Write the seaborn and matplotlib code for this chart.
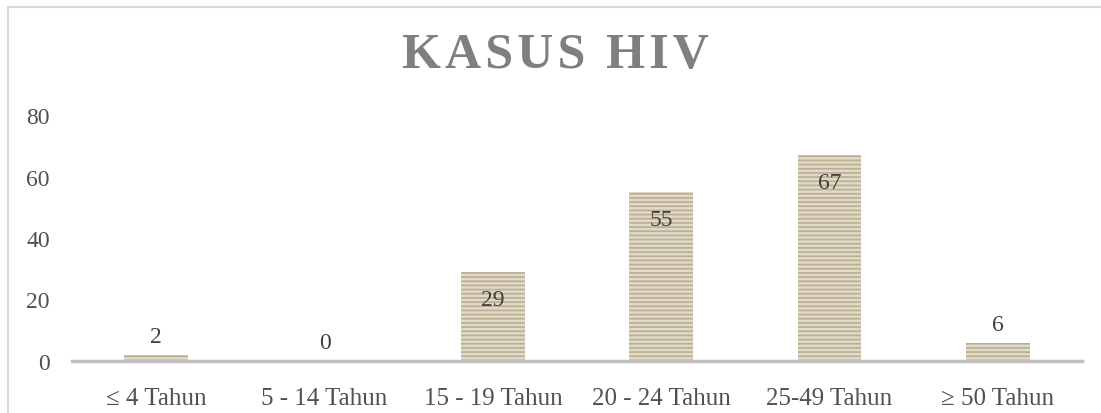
import matplotlib
matplotlib.use("Agg")
import matplotlib.pyplot as plt
import matplotlib.patches as mpatches
import seaborn as sns
import pandas as pd

categories = ["≤ 4 Tahun", "5 - 14 Tahun", "15 - 19 Tahun", "20 - 24 Tahun", "25-49 Tahun", "≥ 50 Tahun"]
cases = [2, 0, 29, 55, 67, 6]
y_ticks = [0, 20, 40, 60, 80]

df = pd.DataFrame({"kelompok": categories, "kasus": cases})

sns.set_theme(style="white")
plt.rcParams["font.family"] = ["Liberation Serif", "DejaVu Serif"]
plt.rcParams["hatch.color"] = "#bcae8f"
plt.rcParams["hatch.linewidth"] = 1.2

fig = plt.figure(figsize=(11.01, 4.14), dpi=100)
ax = fig.add_axes([72 / 1101, 1 - 362 / 414, 1010 / 1101, 246 / 414])

sns.barplot(data=df, x="kelompok", y="kasus", ax=ax, color="#e4dbc6",
            width=0.38, edgecolor="#bcae8f", linewidth=0)
for bar in ax.patches:
    bar.set_hatch("----")

ax.set_ylim(0, 80)
ax.set_yticks(y_ticks)
ax.set_xlabel("")
ax.set_ylabel("")
ax.tick_params(axis="both", length=0, labelcolor="#505050")
ax.tick_params(axis="y", pad=16, labelsize=17)
ax.tick_params(axis="x", pad=19, labelsize=18)
for side in ["left", "right", "top"]:
    ax.spines[side].set_visible(False)
ax.spines["bottom"].set_color("#bfbfbf")
ax.spines["bottom"].set_linewidth(2.5)

# data labels: inside end for tall bars, above for short ones
for i, v in enumerate(cases):
    if v >= 20:
        ax.annotate(str(v), (i, v), xytext=(0, -20), textcoords="offset points",
                    ha="center", va="center", fontsize=17, color="#404040")
    else:
        ax.annotate(str(v), (i, v), xytext=(0, 13), textcoords="offset points",
                    ha="center", va="center", fontsize=17, color="#404040")

fig.text(555 / 1101, 1 - 56 / 414, "\u200a".join("KASUS HIV"), ha="center", va="center",
         fontsize=36, fontweight="bold", color="#7f7f7f")

# outer chart border
fig.patches.append(mpatches.Rectangle((8 / 1101, -0.05), 1.2, 1 - 8 / 414 + 0.05,
                                      transform=fig.transFigure, fill=False,
                                      edgecolor="#d9d9d9", linewidth=1.5))

fig.savefig("out.png", dpi=100)
